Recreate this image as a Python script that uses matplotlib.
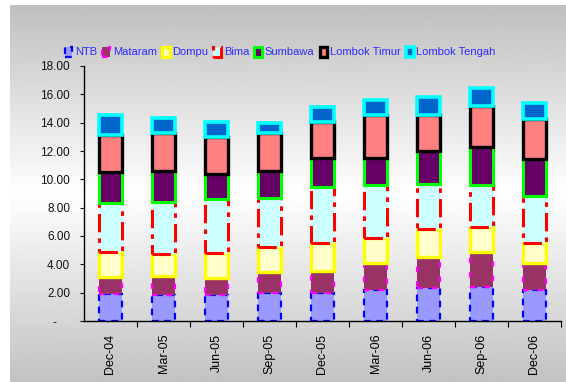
import matplotlib
matplotlib.use("Agg")
import matplotlib.pyplot as plt
import numpy as np
from matplotlib.ticker import FuncFormatter, FixedLocator

plt.rcParams["font.family"] = ["Liberation Sans", "DejaVu Sans"]

periods = ["Dec-04", "Mar-05", "Jun-05", "Sep-05", "Dec-05",
           "Mar-06", "Jun-06", "Sep-06", "Dec-06"]

ntb = [1.88, 1.85, 1.85, 1.95, 2.00, 2.19, 2.31, 2.42, 2.19]
mataram = [1.25, 1.35, 1.21, 1.53, 1.53, 1.90, 2.23, 2.43, 1.88]
dompu = [1.76, 1.53, 1.72, 1.76, 1.95, 1.77, 1.93, 1.81, 1.46]
bima = [3.41, 3.69, 3.81, 3.46, 3.96, 3.74, 3.20, 2.94, 3.29]
sumbawa = [2.24, 2.19, 1.78, 1.89, 2.04, 1.92, 2.33, 2.70, 2.61]
lombok_timur = [2.59, 2.64, 2.59, 2.66, 2.59, 3.02, 2.54, 2.87, 2.80]
lombok_tengah = [1.41, 1.05, 1.11, 0.75, 1.05, 1.03, 1.29, 1.25, 1.18]

series = [
    ("NTB", ntb, "#9999FF", "#0000FF", 1.6, (0, (3, 2.5))),
    ("Mataram", mataram, "#993366", "#FF00FF", 1.6, (0, (2.5, 4))),
    ("Dompu", dompu, "#FFFFCC", "#FFFF00", 2.4, "solid"),
    ("Bima", bima, "#CCFFFF", "#FF0000", 2.2, (0, (6, 2, 1.5, 2))),
    ("Sumbawa", sumbawa, "#660066", "#00FF00", 2.2, "solid"),
    ("Lombok Timur", lombok_timur, "#FF8080", "#000000", 2.4, "solid"),
    ("Lombok Tengah", lombok_tengah, "#0066CC", "#00FFFF", 2.6, "solid"),
]

fig = plt.figure(figsize=(5.66, 3.82), dpi=100)
fig.patch.set_facecolor("white")

# grey-white-grey backdrop of the chart area
bg = fig.add_axes([10 / 566, 0, 556 / 566, 377 / 382], zorder=0)
shade = np.interp(np.linspace(0, 1, 200), [0, 0.5, 1], [0.75, 1.0, 0.76])
bg.imshow(np.repeat(shade[:, None], 2, axis=1), cmap="gray", vmin=0, vmax=1,
          aspect="auto", interpolation="bilinear")
bg.axis("off")

ax = fig.add_axes([84 / 566, 61 / 382, 477 / 566, 255 / 382], zorder=1)
ax.patch.set_alpha(0)

x = np.arange(len(periods))
bottom = np.zeros(len(periods))
for name, vals, fill, edge, lw, ls in series:
    ax.bar(x, vals, width=0.42, bottom=bottom, color=fill, edgecolor=edge,
           linewidth=lw, linestyle=ls, label=name)
    bottom += np.array(vals)

ax.set_xlim(-0.5, len(periods) - 0.5)
ax.set_ylim(0, 18)
ax.set_yticks(np.arange(0, 18.1, 2))
ax.yaxis.set_major_formatter(FuncFormatter(lambda v, p: "-    " if v == 0 else f"{v:.2f}"))
ax.tick_params(axis="y", length=3, pad=7, labelsize=8.5, colors="#111111")

ax.set_xticks(x)
ax.set_xticklabels(periods, rotation=90, fontsize=9, va="top")
ax.tick_params(axis="x", which="major", length=0, pad=9)
ax.xaxis.set_minor_locator(FixedLocator(np.arange(0.5, len(periods), 1)))
ax.tick_params(axis="x", which="minor", length=4, width=0.8)

for side in ("top", "right"):
    ax.spines[side].set_visible(False)
for side in ("left", "bottom"):
    ax.spines[side].set_linewidth(1.0)

leg = fig.legend(loc="center", bbox_to_anchor=(0.495, 0.864), ncol=7,
                 frameon=False, fontsize=8, handlelength=0.7, handleheight=1.0,
                 handletextpad=0.25, columnspacing=0.45, borderpad=0)
for t in leg.get_texts():
    t.set_color("#2B2BFF")

fig.savefig("out.png", dpi=100)
